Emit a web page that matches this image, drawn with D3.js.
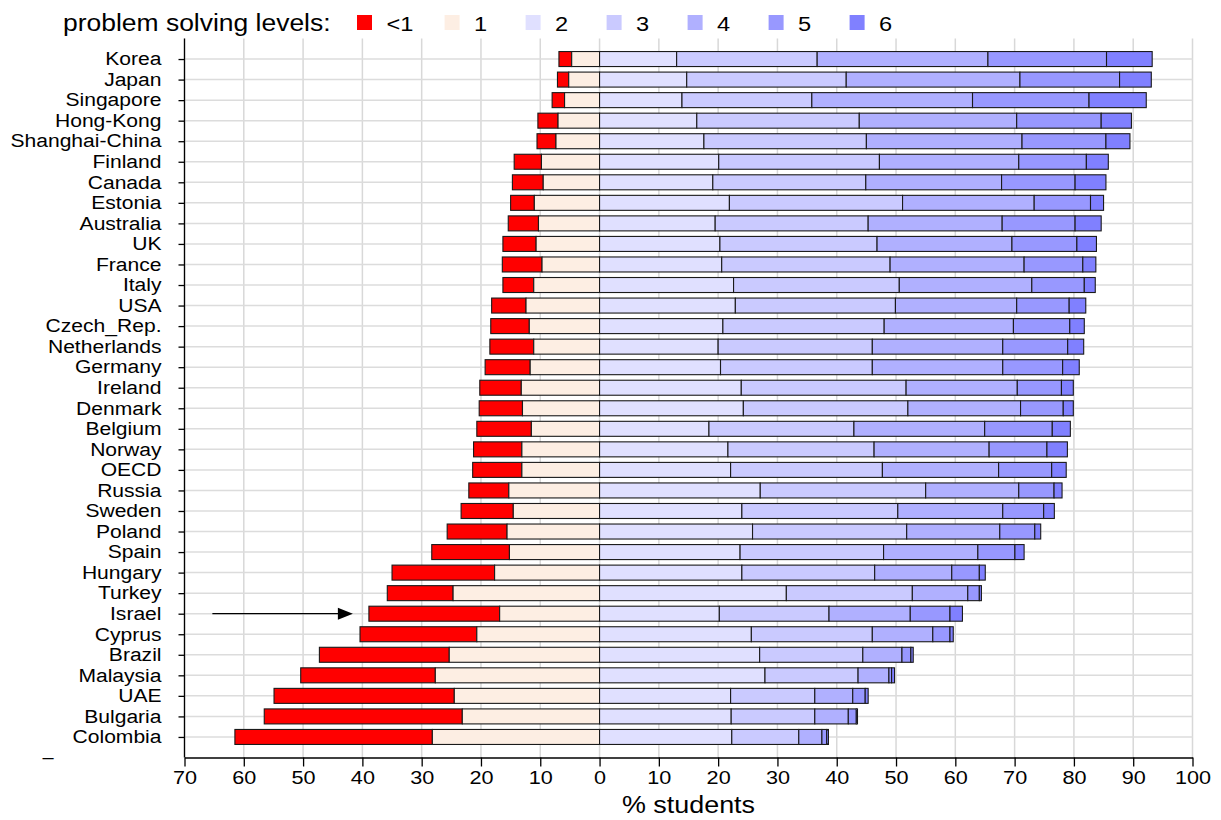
<!DOCTYPE html>
<html>
<head>
<meta charset="utf-8">
<script src="https://cdn.jsdelivr.net/npm/d3@7"></script>
<style>
html,body{margin:0;padding:0;background:#fff;}
svg{display:block;}
text{font-family:"Liberation Sans",Arial,Helvetica,sans-serif;fill:#000;}
</style>
</head>
<body>
<svg id="chart" width="1221" height="820"></svg>
<script>
const countries = ["Korea","Japan","Singapore","Hong-Kong","Shanghai-China","Finland","Canada","Estonia","Australia","UK","France","Italy","USA","Czech_Rep.","Netherlands","Germany","Ireland","Denmark","Belgium","Norway","OECD","Russia","Sweden","Poland","Spain","Hungary","Turkey","Israel","Cyprus","Brazil","Malaysia","UAE","Bulgaria","Colombia"];
const belowOne = [2.15,1.9,2.1,3.4,3.2,4.6,5.2,4.0,5.1,5.6,6.7,5.2,5.8,6.5,7.4,7.6,7.0,7.3,9.2,8.15,8.3,6.75,8.8,10.1,13.1,17.3,11.1,22.05,19.7,21.9,22.7,30.4,33.4,33.3];
const level1 = [4.7,5.2,5.9,7.0,7.35,9.8,9.5,11.0,10.3,10.7,9.7,11.1,12.4,11.85,11.1,11.7,13.2,13.0,11.5,13.1,13.1,15.3,14.55,15.6,15.2,17.7,24.7,16.85,20.7,25.35,27.7,24.5,23.15,28.2];
const level2 = [13.0,14.7,13.9,16.4,17.6,20.1,19.1,21.9,19.5,20.3,20.6,22.6,22.9,20.8,20.0,20.4,23.9,24.25,18.45,21.65,22.1,27.1,24.0,25.8,23.7,24.0,31.5,20.2,25.6,27.0,27.9,22.1,22.2,22.3];
const level3 = [23.7,26.9,21.9,27.4,27.4,27.1,25.8,29.2,25.8,26.5,28.4,27.95,27.0,27.2,26.0,25.6,27.8,27.75,24.45,24.65,25.6,27.9,26.3,26.0,24.2,22.4,21.25,18.5,20.4,17.4,15.7,14.2,14.1,11.3];
const level4 = [28.8,29.3,27.1,26.55,26.25,23.5,22.9,22.2,22.6,22.75,22.6,22.35,20.45,21.8,22.0,22.0,18.75,19.0,22.05,19.4,19.6,15.7,17.7,15.7,15.9,13.0,9.35,13.7,10.2,6.6,5.2,6.4,5.65,3.9];
const level5 = [20.0,16.8,19.65,14.25,14.15,11.4,12.4,9.5,12.3,10.95,9.9,8.85,8.85,9.5,10.95,10.1,7.45,7.2,11.4,9.75,8.95,5.95,6.9,5.9,6.25,4.65,1.95,6.7,2.9,1.5,0.45,2.1,1.35,0.8];
const level6 = [7.7,5.35,9.65,5.1,4.05,3.7,5.2,2.2,4.4,3.3,2.2,1.85,2.8,2.45,2.7,2.8,2.0,1.7,3.05,3.45,2.45,1.35,1.8,1.0,1.55,1.0,0.35,2.1,0.55,0.4,0.5,0.5,0.2,0.3];

const levelNames = ["<1","1","2","3","4","5","6"];
const levelColors = ["#ff0000","#fdeee3","#e0e0ff","#cacaff","#b0b0ff","#9898ff","#8080ff"];
const xTicks = [-70,-60,-50,-40,-30,-20,-10,0,10,20,30,40,50,60,70,80,90,100];
const legendTitle = "problem solving levels:";
const xTitle = "% students";
const arrowRow = "Israel";
const arrowFrom = -65.3, arrowTo = -41.6;

(function(){
const svg = d3.select("#chart");
function stretch(k){
  return function(sel){
    sel.each(function(){
      const w = this.getComputedTextLength();
      if (w > 0) {
        this.setAttribute("textLength", w * k);
        this.setAttribute("lengthAdjust", "spacingAndGlyphs");
      }
    });
  };
}

const pLeft = 184.5, pRight = 1192.5, pTop = 38.5, pBottom = 757.5;
const x = d3.scaleLinear().domain([-70, 100]).range([pLeft, pRight]);
const yLin = d3.scaleLinear().domain([0, countries.length + 1]).range([pTop, pBottom]);
const y = d3.scalePoint().domain(countries).range([yLin(1), yLin(countries.length)]);
const barH = 15;

// gridlines
const grid = svg.append("g");
grid.selectAll("line.v").data(xTicks).enter().append("line")
  .attr("x1", d => x(d)).attr("x2", d => x(d))
  .attr("y1", pTop).attr("y2", pBottom)
  .attr("stroke", "#d8d8d8").attr("stroke-width", 1.5);
grid.selectAll("line.h").data(countries).enter().append("line")
  .attr("x1", pLeft).attr("x2", pRight)
  .attr("y1", d => y(d)).attr("y2", d => y(d))
  .attr("stroke", "#dcdcdc").attr("stroke-width", 1.5);

// stacked segments
const segs = [];
countries.forEach((c, i) => {
  segs.push({c, k: 0, x0: -(level1[i] + belowOne[i]), x1: -level1[i]});
  segs.push({c, k: 1, x0: -level1[i], x1: 0});
  const pos = [level2[i], level3[i], level4[i], level5[i], level6[i]];
  let acc = 0;
  pos.forEach((v, j) => {
    segs.push({c, k: j + 2, x0: acc, x1: acc + v});
    acc += v;
  });
});
svg.append("g").selectAll("rect").data(segs).enter().append("rect")
  .attr("x", d => x(d.x0))
  .attr("width", d => Math.max(0, x(d.x1) - x(d.x0)))
  .attr("y", d => y(d.c) - barH / 2)
  .attr("height", barH)
  .attr("fill", d => levelColors[d.k])
  .attr("stroke", "#1a1a1a")
  .attr("stroke-width", 1.1);

// x axis
const xAxis = svg.append("g").attr("transform", `translate(0,${pBottom})`)
  .call(d3.axisBottom(x).tickValues(xTicks).tickFormat(d => Math.abs(d)).tickSize(9).tickSizeOuter(0).tickPadding(4));
xAxis.select(".domain").attr("stroke", "#000").attr("stroke-width", 1.3);
xAxis.selectAll(".tick line").attr("stroke", "#000").attr("stroke-width", 1.3);
xAxis.selectAll(".tick text").attr("font-size", 18.5).attr("font-family", "Liberation Sans, Arial, sans-serif").attr("fill", "#000").call(stretch(1.17));

// y axis
const yAxis = svg.append("g").attr("transform", `translate(${pLeft},0)`)
  .call(d3.axisLeft(y).tickSize(6).tickSizeOuter(0).tickPadding(17));
yAxis.select(".domain").remove();
yAxis.append("line").attr("x1", 0).attr("x2", 0).attr("y1", pTop).attr("y2", pBottom)
  .attr("stroke", "#000").attr("stroke-width", 1.3);
yAxis.selectAll(".tick line").attr("stroke", "#000").attr("stroke-width", 1.3);
yAxis.selectAll(".tick text").attr("font-size", 18).attr("font-family", "Liberation Sans, Arial, sans-serif").attr("fill", "#000").call(stretch(1.17));

// stray dash below labels
svg.append("text").attr("x", 48).attr("y", yLin(countries.length + 1) + 6)
  .attr("text-anchor", "middle").attr("font-size", 20).text("–");

// x title
svg.append("text").attr("x", (pLeft + pRight) / 2).attr("y", 813)
  .attr("text-anchor", "middle").attr("font-size", 23).text(xTitle).call(stretch(1.17));

// arrow
const ay = y(arrowRow);
svg.append("line").attr("x1", x(arrowFrom)).attr("x2", x(arrowTo) - 14)
  .attr("y1", ay).attr("y2", ay).attr("stroke", "#000").attr("stroke-width", 1.2);
svg.append("path")
  .attr("d", `M${x(arrowTo)},${ay} L${x(arrowTo) - 15},${ay - 6} L${x(arrowTo) - 15},${ay + 6} Z`)
  .attr("fill", "#000");

// legend
svg.append("text").attr("x", 63).attr("y", 31).attr("font-size", 23).text(legendTitle).call(stretch(1.15));
const legX = [357, 444.6, 525.6, 606.6, 687.6, 768.6, 849.6];
const leg = svg.append("g").selectAll("g").data(levelNames).enter().append("g")
  .attr("transform", (d, i) => `translate(${legX[i]},0)`);
leg.append("rect").attr("x", 0).attr("y", 15).attr("width", 15).attr("height", 15)
  .attr("fill", (d, i) => levelColors[i]);
leg.append("text").attr("x", 29.5).attr("y", 30.5).attr("font-size", 20.5).text(d => d).call(stretch(1.15));
})();
</script>
</body>
</html>
